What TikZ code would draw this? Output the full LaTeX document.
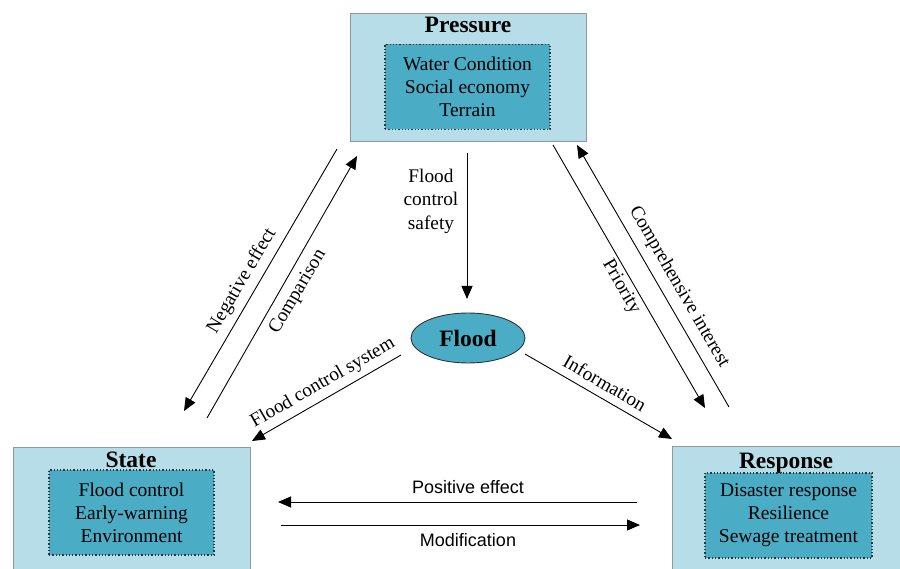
\documentclass[tikz,border=0pt]{standalone}
\usepackage{fontspec}
\setmainfont{Liberation Serif}
\setsansfont{Liberation Sans}
\usetikzlibrary{shapes.geometric,arrows.meta}
\definecolor{outerblue}{HTML}{B7DEE8}
\definecolor{innerblue}{HTML}{4BACC6}
\definecolor{framegray}{HTML}{8C9AA0}
\tikzset{
  outerbox/.style={fill=outerblue,draw=framegray,line width=0.8pt},
  innerbox/.style={fill=innerblue,draw=black!80,dotted,line width=1.3pt,align=center,font=\fontsize{19.5}{23}\selectfont,inner sep=0pt},
  titletext/.style={font=\fontsize{23.5}{26}\bfseries\selectfont,anchor=base,inner sep=0pt},
  conn/.style={line width=0.9pt,-{Triangle[length=13pt,width=11pt]}},
  lbl/.style={font=\fontsize{19.3}{23.5}\selectfont,align=center,inner sep=0pt},
  slbl/.style={font=\sffamily\fontsize{18}{21}\selectfont,inner sep=0pt},
}
\begin{document}
\begin{tikzpicture}[x=1pt,y=-1pt]
\useasboundingbox (0,0) rectangle (900,569);
% boxes
\begin{scope}
\clip (0,0) rectangle (900,569);
\draw[outerbox] (350,13) rectangle (586,141);
\draw[outerbox] (13,447) rectangle (250,575);
\draw[outerbox] (672,446) rectangle (910,575);
\end{scope}
\node[titletext] (ptitle) at (468,33) {Pressure};
\node[titletext] (stitle) at (131,467) {State};
\node[titletext] (rtitle) at (786,468) {Response};
\node[innerbox,minimum width=165pt,minimum height=85pt] (pin) at (467.5,87) {Water Condition\\Social economy\\Terrain};
\node[innerbox,minimum width=165pt,minimum height=85pt] (sin) at (131.5,512.5) {Flood control\\Early-warning\\Environment};
\node[innerbox,minimum width=167pt,minimum height=85pt] (rin) at (788.5,515.5) {Disaster response\\Resilience\\Sewage treatment};
% flood
\node[ellipse,fill=innerblue,draw=black!80,line width=0.9pt,minimum width=114pt,minimum height=50pt,inner sep=0pt,font=\fontsize{23.5}{26}\bfseries\selectfont] (flood) at (468,338) {Flood};
% connector ends
\coordinate (a1s) at (467,153);
\coordinate (a1e) at (467,299);
\coordinate (neS) at (337,149);
\coordinate (neE) at (184,411);
\coordinate (coS) at (207,418);
\coordinate (coE) at (357,156);
\coordinate (fcS) at (401,355);
\coordinate (fcE) at (252,441);
\coordinate (inS) at (525,354);
\coordinate (inE) at (672,439);
\coordinate (prS) at (553,145);
\coordinate (prE) at (705,408);
\coordinate (ciS) at (729,407);
\coordinate (ciE) at (577,145);
\coordinate (peS) at (637,502);
\coordinate (peE) at (278,502);
\coordinate (moS) at (281,525);
\coordinate (moE) at (640,525);
\draw[conn] (a1s) -- (a1e);
\draw[conn] (neS) -- (neE);
\draw[conn] (coS) -- (coE);
\draw[conn] (fcS) -- (fcE);
\draw[conn] (inS) -- (inE);
\draw[conn] (prS) -- (prE);
\draw[conn] (ciS) -- (ciE);
\draw[conn] (peS) -- (peE);
\draw[conn] (moS) -- (moE);
% labels
\node[lbl] (lfcs) at (431,201) {Flood\\control\\safety};
\node[lbl,rotate=59.5] (lne) at (242,281) {Negative effect};
\node[lbl,rotate=59.5] (lco) at (298,292) {Comparison};
\node[lbl,rotate=-60] (lpr) at (621,287) {Priority};
\node[lbl,rotate=-60] (lci) at (679,287) {Comprehensive interest};
\node[lbl,rotate=30] (lfc) at (323,383) {Flood control system};
\node[lbl,rotate=-30] (lin) at (605,383) {Information};
\node[slbl] (lpe) at (468,487) {Positive effect};
\node[slbl] (lmo) at (468,540) {Modification};
\end{tikzpicture}
\end{document}
